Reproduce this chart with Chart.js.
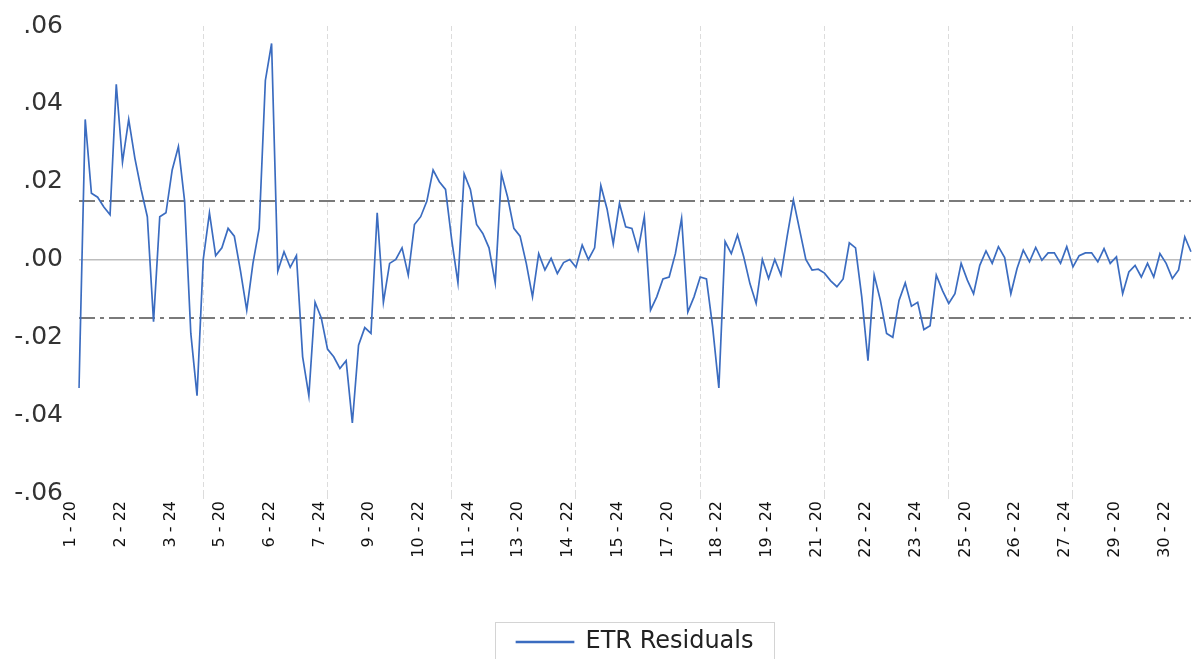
<!DOCTYPE html>
<html>
<head>
<meta charset="utf-8">
<script src="https://cdn.jsdelivr.net/npm/chart.js@4"></script>
<style>
  html, body { margin: 0; padding: 0; background: #fff; }
</style>
</head>
<body>
<canvas id="residChart" width="1195" height="659"></canvas>
<script>
// panel ids and years, obs label is "firm - year"
var firms = [1, 2, 3, 4, 5, 6, 7, 8, 9, 10, 11, 12, 13, 14, 15, 16, 17, 18, 19, 20,
             21, 22, 23, 24, 25, 26, 27, 28, 29, 30];
var years = [20, 21, 22, 23, 24, 25];

// ETR residuals (180 obs)
var residuals = [
  -0.033, 0.036, 0.017, 0.016, 0.0135, 0.0115, 0.045, 0.025, 0.036, 0.026,
  0.018, 0.011, -0.016, 0.011, 0.012, 0.023, 0.029, 0.015, -0.019, -0.035,
  0.000, 0.012, 0.001, 0.003, 0.008, 0.006, -0.003, -0.013, -0.001, 0.008,
  0.046, 0.0555, -0.003, 0.002, -0.002, 0.001, -0.025, -0.035, -0.011, -0.015,
  -0.023, -0.025, -0.028, -0.026, -0.042, -0.022, -0.0175, -0.019, 0.012, -0.011,
  -0.001, 0.000, 0.003, -0.004, 0.009, 0.011, 0.015, 0.023, 0.020, 0.018,
  0.005, -0.006, 0.022, 0.018, 0.009, 0.0067, 0.003, -0.006, 0.022, 0.016,
  0.008, 0.006, -0.001, -0.0096, 0.0015, -0.0027, 0.0003, -0.0036, -0.0008, 0.000,
  -0.002, 0.0037, 0.000, 0.003, 0.019, 0.013, 0.004, 0.0144, 0.0084, 0.008,
  0.0024, 0.011, -0.013, -0.0096, -0.005, -0.0045, 0.0015, 0.0106, -0.0135, -0.0096,
  -0.0045, -0.005, -0.0174, -0.033, 0.0046, 0.0015, 0.0063, 0.0007, -0.0062, -0.0113,
  0.000, -0.0049, 0.000, -0.004, 0.006, 0.0153, 0.0076, 0.000, -0.0027, -0.0025,
  -0.0035, -0.0055, -0.007, -0.005, 0.0043, 0.003, -0.0096, -0.026, -0.004, -0.0105,
  -0.019, -0.020, -0.0105, -0.006, -0.012, -0.011, -0.018, -0.017, -0.004, -0.008,
  -0.0113, -0.0088, -0.001, -0.0053, -0.0088, -0.0015, 0.0022, -0.001, 0.0033, 0.0005,
  -0.0088, -0.0023, 0.0024, -0.0006, 0.0031, -0.0002, 0.0017, 0.0017, -0.001, 0.0033,
  -0.0019, 0.001, 0.0017, 0.0017, -0.0006, 0.0028, -0.001, 0.0007, -0.0088, -0.0032,
  -0.0015, -0.0045, -0.001, -0.0045, 0.0015, -0.001, -0.0049, -0.0027, 0.0058, 0.002
];

// +/- one standard error band
var seUpper = 0.015;
var seLower = -0.015;

var yTicks = [-0.06, -0.04, -0.02, 0, 0.02, 0.04, 0.06];

var categories = [];
firms.forEach(function(f) {
    years.forEach(function(y) {
        categories.push(f + ' - ' + y);
    });
});

function fmtTick(v) {
    var s = Math.abs(v).toFixed(2).slice(1);
    return (v < -1e-9 ? '-' : '') + s;
}

// dash-dot lines for the S.E. band
var seLines = {
    id: 'seLines',
    beforeDatasetsDraw: function(chart) {
        var ctx = chart.ctx;
        var area = chart.chartArea;
        var yScale = chart.scales.y;
        ctx.save();
        ctx.strokeStyle = '#7a7a7a';
        ctx.lineWidth = 2;
        ctx.setLineDash([16, 5, 4, 5]);
        [seUpper, seLower].forEach(function(v) {
            var py = Math.round(yScale.getPixelForValue(v));
            ctx.beginPath();
            ctx.moveTo(area.left, py);
            ctx.lineTo(area.right, py);
            ctx.stroke();
        });
        ctx.restore();
    }
};

// frame round the legend
var legendFrame = {
    id: 'legendFrame',
    afterDraw: function(chart) {
        var box = chart.legend.legendHitBoxes[0];
        if (!box) return;
        var ctx = chart.ctx;
        var mid = box.top + box.height / 2;
        ctx.save();
        ctx.strokeStyle = '#d4d4d4';
        ctx.lineWidth = 1;
        ctx.strokeRect(Math.round(box.left - 22) + 0.5, Math.round(mid - 20) + 0.5, box.width + 42, 60);
        ctx.restore();
    }
};

var ctx = document.getElementById('residChart').getContext('2d');
var residChart = new Chart(ctx, {
    type: 'line',
    data: {
        labels: categories,
        datasets: [{
            label: 'ETR Residuals',
            data: residuals,
            borderColor: '#3b6cc0',
            backgroundColor: '#3b6cc0',
            borderWidth: 1.7,
            pointRadius: 0,
            tension: 0,
            fill: false
        }]
    },
    options: {
        responsive: false,
        animation: false,
        devicePixelRatio: 1,
        events: [],
        layout: { padding: { top: 26, right: 4, left: 0, bottom: -5 } },
        plugins: {
            tooltip: { enabled: false },
            legend: {
                position: 'bottom',
                fullSize: false,
                labels: {
                    boxWidth: 57,
                    boxHeight: 1,
                    padding: 4,
                    color: '#222',
                    font: { family: 'DejaVu Sans', size: 24 }
                }
            }
        },
        scales: {
            x: {
                type: 'category',
                offset: false,
                grid: {
                    color: function(c) {
                        return (c.index > 0 && c.index % 20 === 0) ? '#dcdcdc' : 'rgba(0,0,0,0)';
                    },
                    lineWidth: 1,
                    drawTicks: true,
                    tickLength: 6
                },
                border: { display: false, dash: [5, 3] },
                ticks: {
                    autoSkip: false,
                    minRotation: 90,
                    maxRotation: 90,
                    padding: 2,
                    labelOffset: -8,
                    color: '#111',
                    font: { family: 'DejaVu Sans', size: 16 },
                    callback: function(value, index) {
                        return index % 8 === 0 ? this.getLabelForValue(value) : '';
                    }
                },
                afterFit: function(scale) {
                    scale.height = 133;
                    scale.paddingLeft = 0;
                    scale.paddingRight = 0;
                }
            },
            y: {
                min: -0.06,
                max: 0.06,
                afterBuildTicks: function(scale) {
                    scale.ticks = yTicks.map(function(v) { return { value: v }; });
                },
                grid: {
                    color: function(c) {
                        return (c.tick && c.tick.value === 0) ? '#bdbdbd' : 'rgba(0,0,0,0)';
                    },
                    lineWidth: 1.5,
                    drawTicks: false
                },
                border: { display: false },
                ticks: {
                    padding: 16,
                    color: '#333',
                    font: { family: 'DejaVu Sans', size: 25 },
                    callback: function(value) { return fmtTick(value); }
                },
                afterFit: function(scale) {
                    scale.width = 79;
                    scale.paddingTop = 0;
                    scale.paddingBottom = 0;
                }
            }
        }
    },
    plugins: [seLines, legendFrame]
});
</script>
</body>
</html>
